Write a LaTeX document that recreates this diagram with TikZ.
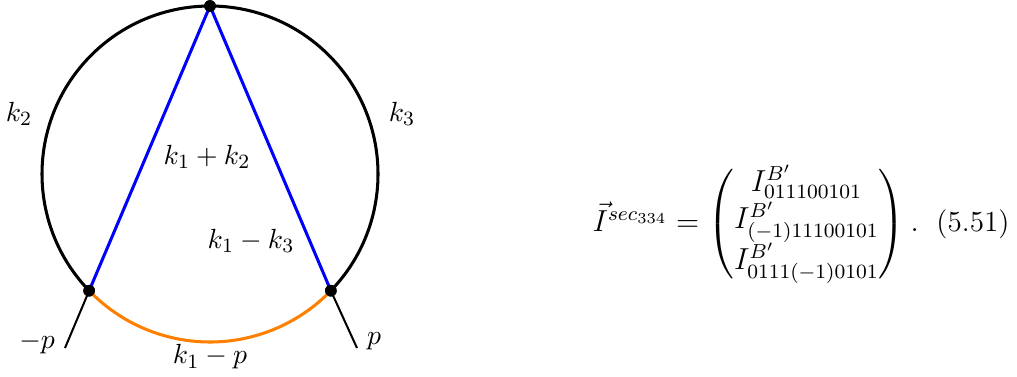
\documentclass[tikz,border=0pt]{standalone}
\usepackage{amsmath}
\definecolor{propblue}{HTML}{0000FF}
\definecolor{proporange}{HTML}{FF7F00}
\usetikzlibrary{calc}
\tikzset{
    loopline/.style={
        draw=black,
        line width=1.2pt
    },
    bluechord/.style={
        draw=propblue,
        line width=1.2pt
    },
    orangearc/.style={
        draw=proporange,
        line width=1.2pt
    },
    extleg/.style={
        draw=black,
        line width=0.8pt
    },
    vertexdot/.style={
        circle,
        fill=black,
        inner sep=0pt,
        minimum size=4.6pt
    },
    momlabel/.style={
        inner sep=0pt,
        font=\fontsize{11}{13.6}\selectfont
    },
    eqlabel/.style={
        momlabel,
        font=\fontsize{11.5}{14}\selectfont
    }
}

\begin{document}
\begin{tikzpicture}[x=0.01389cm,y=0.01389cm]
        \useasboundingbox (0,0) rectangle (1017,376);
        \coordinate (centre) at (210,202);
        \node[vertexdot] (vtop) at ($(centre)+(90:168)$) {};
        \node[vertexdot] (vleft) at ($(centre)+(224:168)$) {};
        \node[vertexdot] (vright) at ($(centre)+(316:168)$) {};
        \coordinate (legleft) at (65,28);
        \coordinate (legright) at (357,28);

        % propagators
        \draw[loopline] (vright.center) arc[start angle=-44, end angle=224, radius=168];
        \draw[orangearc] (vleft.center) arc[start angle=224, end angle=316, radius=168];
        \draw[bluechord] (vleft.center) -- (vtop.center) -- (vright.center);
        \draw[extleg] (vleft.center) -- (legleft);
        \draw[extleg] (vright.center) -- (legright);
        \node[vertexdot] at (vtop) {};
        \node[vertexdot] at (vleft) {};
        \node[vertexdot] at (vright) {};

        % momenta
        \node[momlabel] (ktwo) at (19,262) {$k_2$};
        \node[momlabel] (kthree) at (402,262) {$k_3$};
        \node[momlabel] (konetwo) at (207,219) {$k_1+k_2$};
        \node[momlabel] (konethree) at (251,135) {$k_1-k_3$};
        \node[momlabel] (konep) at (210,19) {$k_1-p$};
        \node[momlabel] (pin) at (37,33) {$-p$};
        \node[momlabel] (pout) at (374,35) {$p$};

        % basis vector
        \node[eqlabel,anchor=west] (ivec) at (592,152)
            {$\vec{I}^{sec_{334}} = \begin{pmatrix}
                I^{B'}_{011100101}\\
                I^{B'}_{(-1)11100101}\\
                I^{B'}_{0111(-1)0101}
             \end{pmatrix}.$\hspace{7pt}(5.51)};
    \end{tikzpicture}
\end{document}
